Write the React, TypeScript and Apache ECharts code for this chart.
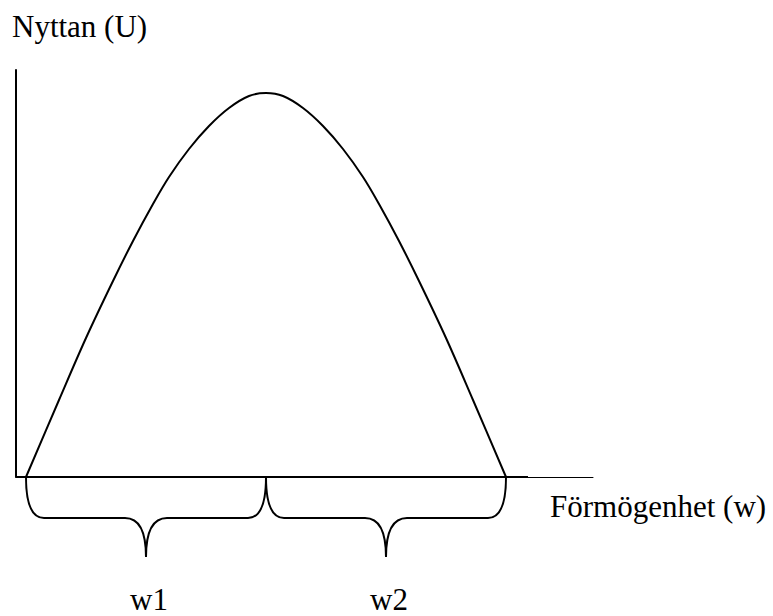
import React, { useEffect, useRef } from "react";
import * as echarts from "echarts";

// Utility curve (x = wealth, u = utility), in axis units
const curveX = [10, 43, 70, 97, 117, 137, 153, 173, 193, 213, 233, 250, 267, 287, 307, 327, 347, 363, 383, 403, 430, 457, 490];
const curveU = [0, 77, 139, 196, 236, 273, 300, 328, 351, 369, 381, 384, 381, 369, 351, 328, 300, 273, 236, 196, 139, 77, 0];

// Wealth intervals marked with braces
const braceStart = [10, 250];
const braceEnd = [250, 490];
const braceLabels = ["w1", "w2"];

// Heavier part of the wealth axis
const axisHeavyX = [0, 512];

const xMax = 577;
const yMax = 407;

const yTitle = "Nyttan (U)";
const xTitle = "Förmögenhet (w)";

const FONT = "Liberation Serif";

export default function App() {
  const ref = useRef<HTMLDivElement>(null);

  useEffect(() => {
    if (!ref.current) return;
    const chart = echarts.init(ref.current, null, { renderer: "svg" });

    const curveData = curveX.map((x, i) => [x, curveU[i]]);
    const braceData = braceStart.map((s, i) => [s, braceEnd[i]]);

    chart.setOption({
      animation: false,
      backgroundColor: "#ffffff",
      textStyle: { fontFamily: FONT },
      grid: { left: 16, right: 180, top: 70, bottom: 139, containLabel: false },
      xAxis: {
        type: "value",
        min: 0,
        max: xMax,
        axisLine: { show: true, onZero: false, lineStyle: { color: "#000", width: 1 } },
        axisTick: { show: false },
        axisLabel: { show: false },
        splitLine: { show: false },
      },
      yAxis: {
        type: "value",
        min: 0,
        max: yMax,
        axisLine: { show: true, lineStyle: { color: "#000", width: 2 } },
        axisTick: { show: false },
        axisLabel: { show: false },
        splitLine: { show: false },
      },
      graphic: [
        {
          type: "text",
          x: 12,
          y: 26,
          style: {
            text: yTitle,
            fontFamily: FONT,
            fontSize: 31,
            fill: "#000",
            align: "left",
            verticalAlign: "middle",
          },
        },
        {
          type: "text",
          x: 550,
          y: 506,
          style: {
            text: xTitle,
            fontFamily: FONT,
            fontSize: 31,
            fill: "#000",
            align: "left",
            verticalAlign: "middle",
          },
        },
      ],
      series: [
        {
          type: "line",
          data: axisHeavyX.map((x) => [x, 0]),
          symbol: "none",
          lineStyle: { color: "#000", width: 2 },
          silent: true,
        },
        {
          type: "line",
          data: curveData,
          smooth: 0.35,
          symbol: "none",
          lineStyle: { color: "#000", width: 2 },
          silent: true,
        },
        {
          type: "custom",
          clip: false,
          silent: true,
          data: braceData,
          renderItem: (params: any, api: any) => {
            const p0 = api.coord([api.value(0), 0]);
            const p1 = api.coord([api.value(1), 0]);
            const x0 = p0[0];
            const x1 = p1[0];
            const yT = p0[1];
            const yM = yT + 41;
            const yB = yT + 80;
            const xm = (x0 + x1) / 2;
            const d =
              `M${x0},${yT} C${x0},${yT + 28} ${x0 + 6},${yM} ${x0 + 18},${yM} ` +
              `L${xm - 21},${yM} C${xm - 6},${yM} ${xm},${yM + 14} ${xm},${yB} ` +
              `C${xm},${yM + 14} ${xm + 6},${yM} ${xm + 21},${yM} ` +
              `L${x1 - 18},${yM} C${x1 - 6},${yM} ${x1},${yT + 28} ${x1},${yT}`;
            return {
              type: "group",
              children: [
                {
                  type: "path",
                  shape: { pathData: d },
                  style: { stroke: "#000", fill: "none", lineWidth: 2 },
                },
                {
                  type: "text",
                  x: xm + 3,
                  y: yT + 138,
                  style: {
                    text: braceLabels[params.dataIndex],
                    fontFamily: FONT,
                    fontSize: 31,
                    fill: "#000",
                    align: "center",
                    verticalAlign: "bottom",
                  },
                },
              ],
            };
          },
        },
      ],
    });

    return () => chart.dispose();
  }, []);

  return (
    <div
      ref={ref}
      style={{ position: "fixed", left: 0, top: 0, width: 773, height: 616, background: "#fff" }}
    />
  );
}
